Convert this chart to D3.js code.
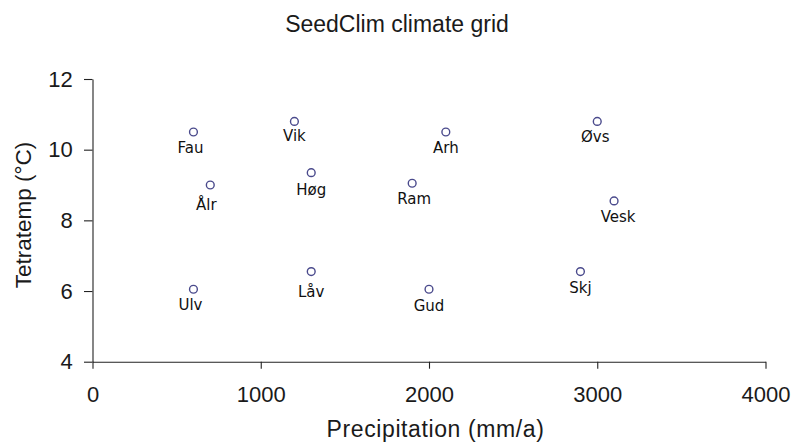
<!DOCTYPE html>
<html>
<head>
<meta charset="utf-8">
<script src="https://cdn.jsdelivr.net/npm/d3@7"></script>
<style>
  html, body { margin: 0; padding: 0; background: #fff; }
  svg { display: block; }
</style>
</head>
<body>
<svg id="chart" width="793" height="443"></svg>
<script>
// SeedClim sites: annual precipitation vs. tetraterm temperature
const sites = ["Fau", "Vik", "Arh", "Øvs", "Ålr", "Høg", "Ram", "Vesk", "Ulv", "Låv", "Gud", "Skj"];
const precipitation = [600, 1200, 2100, 3000, 700, 1300, 1900, 3100, 600, 1300, 2000, 2900];
const tetratemp = [10.5, 10.8, 10.5, 10.8, 9.0, 9.35, 9.05, 8.55, 6.05, 6.55, 6.05, 6.55];
const xTicks = [0, 1000, 2000, 3000, 4000];
const yTicks = [4, 6, 8, 10, 12];

// small label nudges (px) so site names sit clear of their markers
const labelNudge = {
  "Fau": [-3, 0], "Vik": [0, -1], "Arh": [0, 0], "Øvs": [-2, 0],
  "Ålr": [-4, 4], "Høg": [0, 1], "Ram": [2, 0], "Vesk": [4, 0],
  "Ulv": [-3, 0], "Låv": [0, 4], "Gud": [0, 1], "Skj": [0, 0]
};

const svg = d3.select("#chart");
const sans = "'Liberation Sans', Arial, sans-serif";

const x = d3.scaleLinear().domain([0, 4000]).range([92.5, 765.5]);
const y = d3.scaleLinear().domain([4, 12]).range([361.7, 79]);

// x axis
const gx = svg.append("g")
  .attr("transform", `translate(0,${y(4)})`)
  .call(d3.axisBottom(x).tickValues(xTicks).tickFormat(d3.format("d"))
    .tickSize(7).tickSizeOuter(0).tickPadding(17.7));
// y axis
const gy = svg.append("g")
  .attr("transform", `translate(${x(0)},0)`)
  .call(d3.axisLeft(y).tickValues(yTicks).tickFormat(d3.format("d"))
    .tickSize(8.5).tickSizeOuter(0).tickPadding(11.3));

[gx, gy].forEach(g => {
  g.select(".domain").attr("stroke", "#222").attr("stroke-width", 1.1);
  g.selectAll(".tick line").attr("stroke", "#222").attr("stroke-width", 1.1);
  g.selectAll(".tick text").attr("fill", "#1a1a1a")
    .style("font-family", sans).style("font-size", "22px");
});

// title
svg.append("text")
  .attr("x", 397).attr("y", 32.3)
  .attr("text-anchor", "middle")
  .style("font-family", sans).style("font-size", "23px").attr("fill", "#1a1a1a")
  .text("SeedClim climate grid");

// axis titles
svg.append("text")
  .attr("x", 435.5).attr("y", 437)
  .attr("text-anchor", "middle")
  .style("font-family", sans).style("font-size", "23px")
  .style("letter-spacing", "0.6px").attr("fill", "#1a1a1a")
  .text("Precipitation (mm/a)");

svg.append("text")
  .attr("transform", "translate(31,215) rotate(-90)")
  .attr("text-anchor", "middle")
  .style("font-family", sans).style("font-size", "22.5px").attr("fill", "#1a1a1a")
  .text("Tetratemp (°C)");

// sites
const data = sites.map((s, i) => ({ site: s, p: precipitation[i], t: tetratemp[i] }));

svg.append("g").selectAll("circle")
  .data(data).join("circle")
  .attr("cx", d => x(d.p))
  .attr("cy", d => y(d.t))
  .attr("r", 3.9)
  .attr("fill", "none")
  .attr("stroke", "#4a4a8c")
  .attr("stroke-width", 1.4);

svg.append("g").selectAll("text")
  .data(data).join("text")
  .attr("x", d => x(d.p) + labelNudge[d.site][0])
  .attr("y", d => y(d.t) + 21 + labelNudge[d.site][1])
  .attr("text-anchor", "middle")
  .style("font-family", "'DejaVu Sans', sans-serif")
  .style("font-size", "15px")
  .attr("fill", "#111")
  .text(d => d.site);
</script>
</body>
</html>
